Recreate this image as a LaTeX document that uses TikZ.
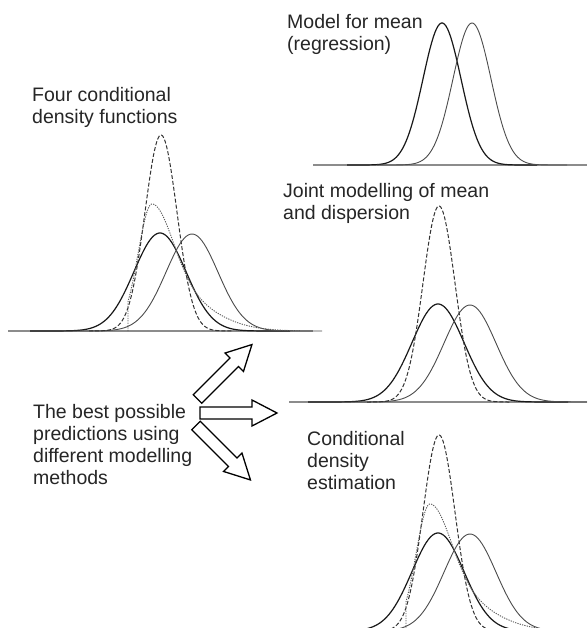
\documentclass[tikz,border=0pt]{standalone}
\usepackage{fontspec}
\setmainfont{Liberation Sans}
\newcommand\densSolidDash{%
  \draw[solidA] plot[domain=30:290,samples=120] (\x,{331-gss(\x,160,26,98)});
  \draw[solidB] plot[domain=62:322,samples=120] (\x,{331-gss(\x,192,26,97)});
  \draw[dashedc] plot[domain=89:233,samples=120] (\x,{331-gss(\x,161,16,196)});
}
\newcommand\densDotted{%
  \draw[dottedc] (128,331) -- plot[domain=128:152,samples=30] (\x,{331-gss(\x,152,14,127)})
    -- plot[domain=152:300,samples=100] (\x,{331-0.6*gss(\x,152,20,127)-0.4*gss(\x,152,45,127)});
}
\begin{document}
\begin{tikzpicture}[x=1pt,y=-1pt,
  declare function={gss(\x,\m,\s,\h)=\h*exp(-0.5*((\x-\m)/\s)^2);},
  lbl/.style={anchor=base west, align=left, inner sep=0pt, font=\fontsize{19.5}{22}\selectfont, text=black!85},
  baseln/.style={draw=black!45, line width=1.4pt},
  solidA/.style={line width=1.2pt, draw=black!90},
  solidB/.style={line width=0.9pt, draw=black!70},
  dashedc/.style={line width=1pt, draw=black!80, dash pattern=on 4pt off 2pt},
  dottedc/.style={line width=0.9pt, draw=black!65, dash pattern=on 1.2pt off 1.2pt},
  barrow/.style={draw=black, line width=1.3pt, fill=white, line join=miter}]
\useasboundingbox (0,0) rectangle (587,628);
\clip (0,0) rectangle (587,628);
\fill[white] (0,0) rectangle (587,628);

% Panel 1: four conditional density functions
\draw[baseln] (8,331) -- (313,331);
\densSolidDash
\densDotted
\node[lbl] (t1) at (32,124) {Four conditional\\density functions};

% Panel 2: model for mean
\draw[baseln] (313,165) -- (587,165);
\draw[solidA] plot[domain=347:537,samples=120] (\x,{165-gss(\x,442,19,142)});
\draw[solidB] plot[domain=377:567,samples=120] (\x,{165-gss(\x,472,19,142)});
\node[lbl] (t2) at (287,51) {Model for mean\\(regression)};

% Panel 3: joint modelling
\draw[baseln] (289,402) -- (587,402);
\begin{scope}[shift={(278,71)}]
  \densSolidDash
\end{scope}
\node[lbl] (t3) at (283,219) {Joint modelling of mean\\and dispersion};

% Panel 4: conditional density estimation
\begin{scope}[shift={(278,300)}]
  \densSolidDash
  \densDotted
\end{scope}
\node[lbl] (t4) at (307,489) {Conditional\\density\\estimation};

% Arrows and caption
\node[lbl] (t5) at (33,484) {The best possible\\predictions using\\different modelling\\methods};
\begin{scope}[shift={(197.5,399)},rotate=45]
  \draw[barrow] (0,-6) -- (52,-6) -- (52,-13) -- (77,0) -- (52,13) -- (52,6) -- (0,6) -- cycle;
\end{scope}
\begin{scope}[shift={(196,425.5)},rotate=-45]
  \draw[barrow] (0,-6) -- (52,-6) -- (52,-13) -- (77,0) -- (52,13) -- (52,6) -- (0,6) -- cycle;
\end{scope}
\begin{scope}[shift={(200,413)}]
  \draw[barrow] (0,-6) -- (52,-6) -- (52,-13) -- (77,0) -- (52,13) -- (52,6) -- (0,6) -- cycle;
\end{scope}
\end{tikzpicture}
\end{document}
